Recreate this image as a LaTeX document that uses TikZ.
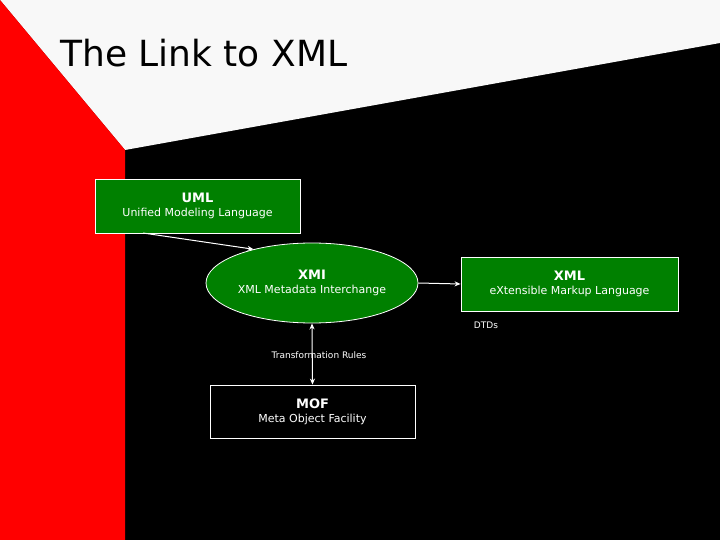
\documentclass[tikz,border=0pt]{standalone}
\usepackage{fontspec}
\setmainfont{DejaVu Sans}
\usetikzlibrary{shapes.geometric,arrows.meta}
\definecolor{gr}{HTML}{008000}
\definecolor{wh}{HTML}{F8F8F8}
\begin{document}
\begin{tikzpicture}[x=1pt,y=-1pt,
  box/.style={draw=white,line width=0.8pt,text=white,align=center,inner sep=0pt},
  lab/.style={text=white,font=\fontsize{9}{10}\selectfont,inner sep=0pt},
  arr/.style={draw=white,line width=1pt,-{Stealth[length=6pt,width=5pt]}}]
\useasboundingbox (0,0) rectangle (720,540);
\fill[black] (0,0) rectangle (720,540);
\fill[wh] (0,0) -- (720,0) -- (720,43) -- (125,150) -- cycle;
\fill[red] (0,0) -- (125,150) -- (125,540) -- (0,540) -- cycle;
\node[anchor=base west,inner sep=0pt,font=\fontsize{36}{40}\selectfont] (title) at (60,67) {The Link to XML};
\node[box,fill=gr,minimum width=205pt,minimum height=54pt] (uml) at (197.5,206)
  {{\bfseries\fontsize{13}{16}\selectfont UML}\\[2pt]\fontsize{11}{13}\selectfont Unified Modeling Language};
\node[box,fill=gr,ellipse,minimum width=212pt,minimum height=80pt] (xmi) at (312,283)
  {{\bfseries\fontsize{13}{16}\selectfont XMI}\\[2pt]\fontsize{11}{13}\selectfont XML Metadata Interchange};
\node[box,fill=gr,minimum width=217pt,minimum height=54pt] (xml) at (569.5,284)
  {{\bfseries\fontsize{13}{16}\selectfont XML}\\[2pt]\fontsize{11}{13}\selectfont eXtensible Markup Language};
\node[box,fill=black,minimum width=205pt,minimum height=53pt] (mof) at (312.5,411.5)
  {{\bfseries\fontsize{13}{16}\selectfont MOF}\\[2pt]\fontsize{11}{13}\selectfont Meta Object Facility};
\node[lab] (dtd) at (486,325) {DTDs};
\node[lab] (tr) at (319,355) {Transformation Rules};
\draw[arr] (143,233) -- (xmi.150);
\draw[arr] (xmi.east) -- (xml.west);
\draw[arr,{Stealth[length=6pt,width=5pt]}-{Stealth[length=6pt,width=5pt]}] (xmi.south) -- (mof.north);
\end{tikzpicture}
\end{document}
